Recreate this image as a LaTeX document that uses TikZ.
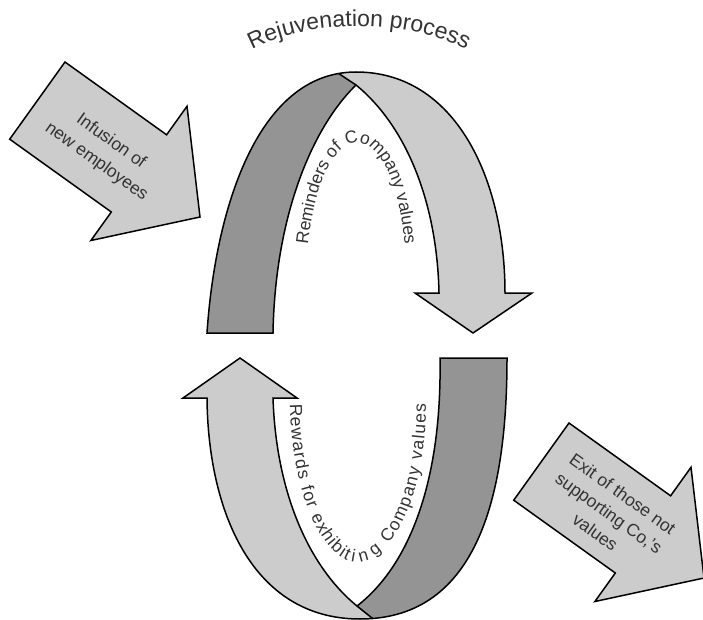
\documentclass[tikz,border=0pt]{standalone}
\usepackage{fontspec}
\setmainfont{Liberation Sans}
\usetikzlibrary{decorations.text}

\definecolor{bandlight}{gray}{0.80}
\definecolor{banddark}{gray}{0.58}
\definecolor{inkgray}{gray}{0.20}

\newcommand\ribbonfont{\fontsize{17.5}{20}\selectfont}
\newcommand\titlefont{\fontsize{23}{26}\selectfont}

% upper half of the loop: dark inner face on the left, light face ending in a downward head
\def\toparch{(207,333) .. controls (215,213) and (256,72) .. (356,72)
  .. controls (456,72) and (505,180) .. (505,293) -- (532,293) -- (473,333)
  -- (415,293) -- (439,293) .. controls (437,200) and (405,125) .. (356,85)
  .. controls (310,130) and (275,220) .. (273,333) -- cycle}

% lower half of the loop: light face with an upward head on the left, dark face on the right
\def\botarch{(507,358) .. controls (507,490) and (480,619) .. (360,619)
  .. controls (252,619) and (208,511) .. (207,398) -- (183,398) -- (240,358)
  -- (297,398) -- (273,398) .. controls (276,491) and (308,566) .. (357,606)
  .. controls (410,565) and (442,480) .. (440,358) -- cycle}

% block arrow used for the inflow and the outflow
\def\blockarrow{(65,62) -- (166.6,134.8) -- (187,106.3) -- (200,217)
  -- (90.9,240.5) -- (111.3,212) -- (9.7,139.2) -- cycle}

\begin{document}
\begin{tikzpicture}[x=1pt,y=-1pt,
  outline/.style={draw=black, line width=1.5pt, line join=miter},
  arrowtext/.style={text=inkgray, align=center, inner sep=0pt, rotate=-35.6},
  ribbontext/.style={decorate, decoration={text along path, text align=center,
      text color=inkgray}}
]
\useasboundingbox (0,0) rectangle (703,620);

% ---- upper arch
\fill[bandlight] \toparch;
\begin{scope}
  \clip (150,400) -- (150,0) -- (228,0) -- (338.5,73.4) -- (356,85) -- (356,400) -- cycle;
  \fill[banddark] \toparch;
\end{scope}
\draw[outline] \toparch;
\coordinate (topfold) at (338.5,73.4);
\coordinate (topapex) at (356,85);
\draw[outline] (topfold) -- (topapex);

% ---- lower arch
\fill[bandlight] \botarch;
\begin{scope}
  \clip (357,300) -- (357,606) -- (449.5,680) -- (650,680) -- (650,300) -- cycle;
  \fill[banddark] \botarch;
\end{scope}
\draw[outline] \botarch;
\coordinate (botapex) at (357,606);
\coordinate (botfold) at (372.5,618.4);
\draw[outline] (botapex) -- (botfold);

% ---- inflow and outflow arrows
\draw[outline, fill=bandlight] \blockarrow;
\draw[outline, fill=bandlight, shift={(504,361)}] \blockarrow;

\node[arrowtext, font=\fontsize{17.5}{25}\selectfont] (infusion) at (103.7,151.7)
  {Infusion of\\new employees};
\node[arrowtext, font=\fontsize{17.5}{23.5}\selectfont] (exit) at (609,513)
  {Exit of those not\\supporting Co,'s\\values};

% ---- curved labels
\path[ribbontext, decoration={text={|\titlefont|Rejuvenation process}}]
  (238,58) .. controls (296,16) and (422,16) .. (480,58);
\path[ribbontext, decoration={text={|\ribbonfont|Reminders of Company values}}]
  (306,266) .. controls (312,180) and (335,143) .. (357,143)
  .. controls (380,143) and (403,185) .. (406,266);
\path[ribbontext, decoration={text align={fit to path},
    text={|\ribbonfont|Rewards for exhibit{\kern1pt}i{\kern3pt}n{\kern3pt}g{\kern1pt} Company values}}]
  (290,404) .. controls (292,500) and (325,562) .. (357,562)
  .. controls (390,562) and (426,500) .. (426,404);
\end{tikzpicture}
\end{document}
